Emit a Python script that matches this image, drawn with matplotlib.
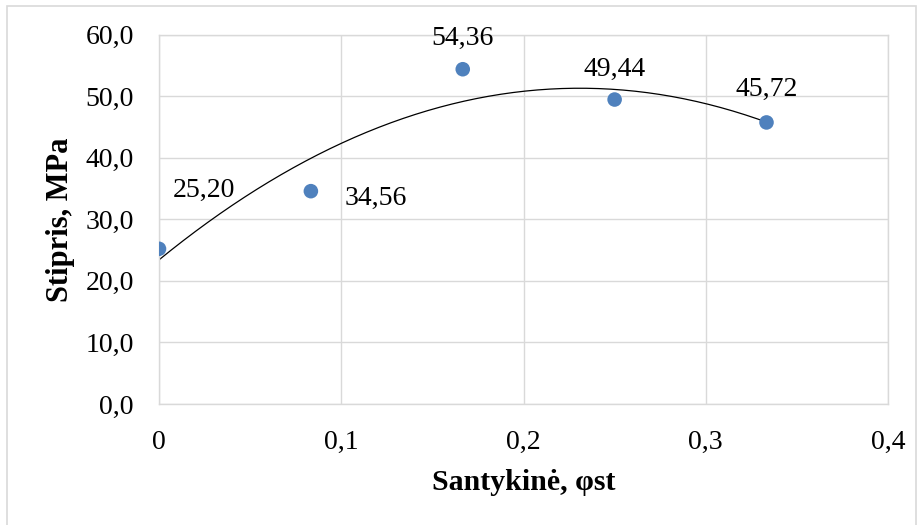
import matplotlib.pyplot as plt
import numpy as np
from matplotlib.patches import Rectangle

plt.rcParams['font.family'] = ['Liberation Serif', 'DejaVu Serif']

# duomenys
santykis = [0.0, 1 / 12, 1 / 6, 0.25, 1 / 3]
stipris = [25.20, 34.56, 54.36, 49.44, 45.72]
# etikečių poslinkiai (taškais)
label_offsets = [(32, 42), (47, -5), (0, 22), (0, 22), (0, 24)]

fig = plt.figure(figsize=(9.2, 5.25), dpi=100)
ax = fig.add_axes([159 / 920, 1 - 404 / 525, 729 / 920, 369.5 / 525])

# išorinis rėmelis
fig.patches.append(Rectangle((7 / 920, -0.01), 909 / 920, 1 - 6 / 525 + 0.01,
                             transform=fig.transFigure, fill=False,
                             edgecolor='#D9D9D9', linewidth=1.2))

# polinominė tendencijos linija (2 laipsnis)
koef = np.polyfit(santykis, stipris, 2)
xs = np.linspace(0, max(santykis), 200)
ax.plot(xs, np.polyval(koef, xs), color='black', linewidth=0.9, zorder=2)

ax.scatter(santykis, stipris, s=110, color='#4F81BD', zorder=3, edgecolors='none')

for x, y, (dx, dy) in zip(santykis, stipris, label_offsets):
    ax.annotate(f'{y:.2f}'.replace('.', ','), (x, y), xytext=(dx, dy),
                textcoords='offset points', ha='center', va='center', fontsize=20)

ax.set_xlim(0, 0.4)
ax.set_ylim(0, 60)
ax.set_xticks(np.arange(0, 0.41, 0.1))
ax.set_yticks(np.arange(0, 61, 10))
ax.set_xticklabels(['0', '0,1', '0,2', '0,3', '0,4'])
ax.set_yticklabels([f'{v:.1f}'.replace('.', ',') for v in np.arange(0, 61, 10)])
ax.tick_params(axis='y', length=0, labelsize=20, pad=18)
ax.tick_params(axis='x', length=0, labelsize=20, pad=19)

ax.grid(True, color='#D9D9D9', linewidth=1)
ax.set_axisbelow(True)
for sp in ax.spines.values():
    sp.set_color('#D9D9D9')
    sp.set_linewidth(1)

ax.set_xlabel('Santykinė, φst', fontsize=21.5, fontweight='bold', labelpad=10)
ax.set_ylabel('Stipris, MPa', fontsize=22, fontweight='bold', labelpad=8)

fig.savefig('out.png', dpi=100)
